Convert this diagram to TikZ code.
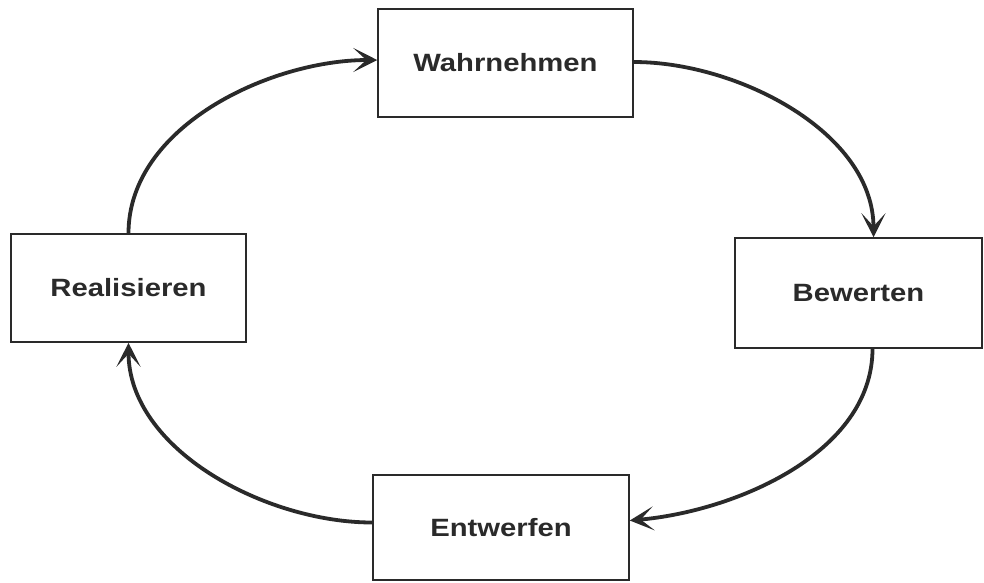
\documentclass[tikz,border=0pt]{standalone}
\usepackage{fontspec}
\setmainfont{Liberation Sans}[FakeStretch=1.17]
\usetikzlibrary{arrows.meta,calc}
\definecolor{ink}{HTML}{2A2A2A}
\tikzset{
  stagebox/.style={draw=ink, line width=1.5pt, rectangle, inner sep=0pt,
    font=\fontsize{25}{28}\selectfont\bfseries, text=ink},
  cyclearrow/.style={draw=ink, line width=3.8pt,
    -{Stealth[length=24pt,width=24pt,inset=13pt]}},
}
\begin{document}
\begin{tikzpicture}[x=1pt,y=-1pt]
\useasboundingbox (0,0) rectangle (984,582);
\node[stagebox, minimum width=255pt, minimum height=108pt] (W) at (505.5,63) {Wahrnehmen};
\node[stagebox, minimum width=247pt, minimum height=110pt] (B) at (858.5,293) {Bewerten};
\node[stagebox, minimum width=235pt, minimum height=108pt] (R) at (128.5,288) {Realisieren};
\node[stagebox, minimum width=256pt, minimum height=105pt] (E) at (501,527.5) {Entwerfen};
\coordinate (Wl) at ($(W.west)+(0,-3)$);
\coordinate (Wr) at ($(W.east)+(0,-1)$);
\coordinate (Bt) at ($(B.north)+(15,0)$);
\coordinate (Bb) at ($(B.south)+(14,0)$);
\coordinate (Er) at ($(E.east)+(0,-7)$);
\coordinate (El) at ($(E.west)+(0,-5)$);
\draw[cyclearrow] (R.north) to[out=90,in=180,looseness=0.9] (Wl);
\draw[cyclearrow] (Wr) to[out=0,in=90,looseness=0.9] (Bt);
\draw[cyclearrow] (Bb) to[out=-90,in=5,looseness=0.9] (Er);
\draw[cyclearrow] (El) to[out=180,in=-90,looseness=0.9] (R.south);
\end{tikzpicture}
\end{document}
